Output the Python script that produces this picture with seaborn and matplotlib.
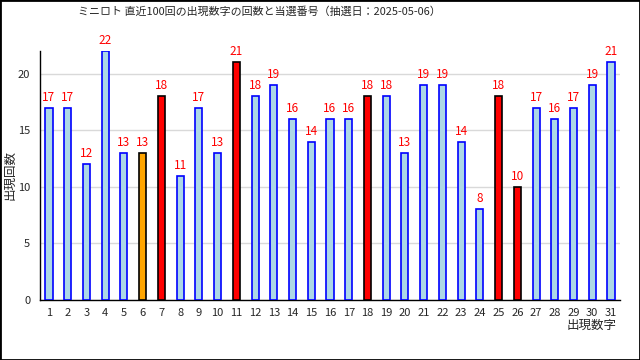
import matplotlib
matplotlib.use("Agg")
import matplotlib.pyplot as plt
import seaborn as sns
import pandas as pd
from matplotlib.patches import Rectangle

numbers = list(range(1, 32))
counts = [17, 17, 12, 22, 13, 13, 18, 11, 17, 13, 21, 18, 19, 16, 14, 16,
          16, 18, 18, 13, 19, 19, 14, 8, 18, 10, 17, 16, 17, 19, 21]
winning = [7, 11, 18, 25, 26]
bonus = [6]
title = "ミニロト 直近100回の出現数字の回数と当選番号（抽選日：2025-05-06）"

sns.set_theme(style="white")
plt.rcParams['font.family'] = ['Noto Sans CJK JP', 'DejaVu Sans']

df = pd.DataFrame({"num": [str(n) for n in numbers], "count": counts})

fig = plt.figure(figsize=(6.4, 3.6), dpi=100)
ax = fig.add_axes([40/640, 1 - 300/360, 580/640, 249/360])

face = []
edge = []
for n in numbers:
    if n in winning:
        face.append("red"); edge.append("black")
    elif n in bonus:
        face.append("orange"); edge.append("black")
    else:
        face.append("lightblue"); edge.append("blue")

sns.barplot(data=df, x="num", y="count", ax=ax, width=0.38, order=df["num"])
for p, fc, ec in zip(ax.patches, face, edge):
    p.set_facecolor(fc)
    p.set_edgecolor(ec)
    p.set_linewidth(1.2)
    p.set_zorder(3)

for i, c in enumerate(counts):
    ax.text(i, c + 0.35, str(c), ha="center", va="bottom", color="red", fontsize=8.5)

ax.set_xlim(-0.48, len(numbers) - 0.52)
ax.set_ylim(0, 22)
ax.set_yticks([0, 5, 10, 15, 20])
ax.yaxis.grid(True, color="#d9d9d9", linewidth=1)
ax.set_axisbelow(True)
for s in ["top", "right"]:
    ax.spines[s].set_visible(False)
for s in ["left", "bottom"]:
    ax.spines[s].set_color("black")
    ax.spines[s].set_linewidth(1)
ax.tick_params(axis="y", length=0, labelsize=8, pad=7)
ax.tick_params(axis="x", which="major", length=0, labelsize=8, pad=6)
ax.set_xticks([i + 0.5 for i in range(len(numbers) - 1)], minor=True)
ax.tick_params(axis="x", which="minor", direction="in", length=5, width=1, color="black")
ax.set_xlabel("")
ax.set_ylabel("")

fig.text(10/640, 1 - 175/360, "出現回数", rotation=90, ha="center", va="center", fontsize=9)
fig.text(259/640, 1 - 12/360, title, ha="center", va="center", fontsize=7.9)
fig.text(592/640, 1 - 325/360, "出現数字", ha="center", va="center", fontsize=9)

fig.patches.append(Rectangle((0, 0), 1, 1, transform=fig.transFigure, fill=False,
                             edgecolor="black", linewidth=2, zorder=10))

fig.savefig("out.png", dpi=100)
